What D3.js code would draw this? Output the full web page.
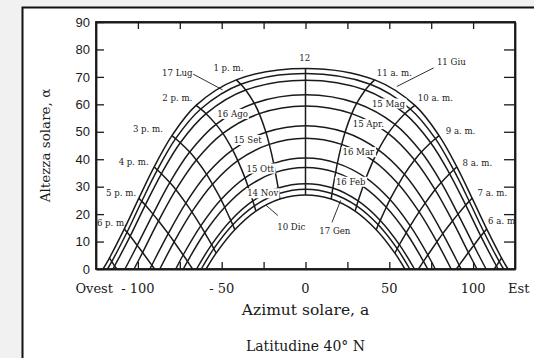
<!DOCTYPE html>
<html>
<head>
<meta charset="utf-8">
<script src="https://cdn.jsdelivr.net/npm/d3@7"></script>
<style>
  body { margin: 0; background: #fff; }
  svg { display: block; }
</style>
</head>
<body>
<div id="chart"></div>
<script>
// sun path, latitude 40 N -- one row per date, one column per hour from noon (0..7 h)
const dates = ["11 Giu", "17 Lug", "15 Mag", "16 Ago", "15 Apr.", "15 Set",
               "16 Mar", "15 Ott", "16 Feb", "14 Nov", "17 Gen", "10 Dic"];

const altitudes = [
  [73.1, 68.9, 59.6, 48.6, 37.2, 25.8, 14.6, 4.0],
  [71.2, 67.3, 58.3, 47.5, 36.1, 24.7, 13.4, 2.7],
  [68.8, 65.2, 56.6, 46.0, 34.7, 23.3, 12.0, 1.1],
  [63.5, 60.4, 52.7, 42.6, 31.5, 20.0, 8.6, null],
  [59.4, 56.6, 49.4, 39.7, 28.9, 17.5, 6.0, null],
  [52.2, 49.8, 43.4, 34.5, 24.0, 12.9, 1.4, null],
  [47.6, 45.4, 39.5, 30.9, 20.8, 9.9, null, null],
  [40.4, 38.5, 33.2, 25.3, 15.7, 5.1, null, null],
  [37.0, 35.2, 30.1, 22.5, 13.2, 2.8, null, null],
  [31.1, 29.5, 24.8, 17.7, 8.9, null, null, null],
  [29.1, 27.5, 23.0, 16.1, 7.4, null, null, null],
  [27.0, 25.5, 21.1, 14.3, 5.8, null, null, null]
];

const azimuths = [
  [0, 41.3, 65.3, 79.7, 90.3, 99.4, 108.1, 117.0],
  [0, 38.6, 62.5, 77.5, 88.4, 97.7, 106.5, 115.6],
  [0, 35.7, 59.3, 74.7, 86.0, 95.6, 104.6, 113.9],
  [0, 30.6, 53.4, 69.1, 81.0, 91.0, 100.4, null],
  [0, 27.6, 49.3, 65.1, 77.3, 87.7, 97.2, null],
  [0, 23.6, 43.5, 59.0, 71.4, 81.9, 91.7, null],
  [0, 21.6, 40.4, 55.5, 67.8, 78.4, null, null],
  [0, 19.0, 36.1, 50.4, 62.5, 73.0, null, null],
  [0, 18.0, 34.3, 48.2, 60.1, 70.4, null, null],
  [0, 16.3, 31.4, 44.6, 56.0, null, null, null],
  [0, 15.8, 30.5, 43.4, 54.7, null, null, null],
  [0, 15.3, 29.6, 42.2, 53.3, null, null, null]
];

// azimuth where each date's path meets the horizon
const sunriseAz = [120.8, 118.2, 114.9, 107.7, 102.3, 92.9, 86.9, 77.4, 72.9, 65.0, 62.2, 59.3];
// azimuth where an hour line meets the horizon (null = it stops on the 10 Dic path)
const hourHorizonAz = [null, null, null, null, null, 67.4, 90.0, 112.6];

const pmLabels = ["12", "1 p. m.", "2 p. m.", "3 p. m.", "4 p. m.", "5 p. m.", "6 p. m."];
const amLabels = ["12", "11 a. m.", "10 a. m.", "9 a. m.", "8 a. m.", "7 a. m.", "6 a. m"];

const yTicks = [0, 10, 20, 30, 40, 50, 60, 70, 80, 90];
const xTicks = [-100, -75, -50, -25, 0, 25, 50, 75, 100];
const xTickLabels = [-100, -50, 0, 50, 100];

// where the annotations sit, in chart units (azimuth, altitude)
const annotations = [
  { text: "12", az: -0.5, alt: 77.0 },
  { text: pmLabels[1], az: -46, alt: 73.3 },
  { text: pmLabels[2], az: -76.5, alt: 62.3 },
  { text: pmLabels[3], az: -94, alt: 51.0 },
  { text: pmLabels[4], az: -102.5, alt: 39.0 },
  { text: pmLabels[5], az: -110, alt: 27.7 },
  { text: pmLabels[6], az: -115.5, alt: 16.8 },
  { text: amLabels[1], az: 53, alt: 71.4 },
  { text: amLabels[2], az: 77.5, alt: 62.3 },
  { text: amLabels[3], az: 92.5, alt: 50.3 },
  { text: amLabels[4], az: 102.5, alt: 38.6 },
  { text: amLabels[5], az: 111.5, alt: 27.7 },
  { text: amLabels[6], az: 117, alt: 17.5 },
  { text: dates[0], az: 87, alt: 75.3, leader: [76.5, 73.3, 54.5, 66.5] },
  { text: dates[1], az: -76.5, alt: 71.4, leader: [-67, 71.0, -49.5, 65.3] },
  { text: dates[2], az: 49.5, alt: 60.3, bg: true },
  { text: dates[3], az: -43.5, alt: 56.5, bg: true },
  { text: dates[4], az: 37.5, alt: 52.8, bg: true },
  { text: dates[5], az: -34.5, alt: 47.0, bg: true },
  { text: dates[6], az: 31.5, alt: 42.6, bg: true },
  { text: dates[7], az: -27, alt: 36.6, bg: true },
  { text: dates[8], az: 27, alt: 31.8, bg: true },
  { text: dates[9], az: -25.5, alt: 27.6, bg: true },
  { text: dates[10], az: 17.5, alt: 14.0, leader: [15.8, 17.0, 21.0, 25.0] },
  { text: dates[11], az: -8.5, alt: 15.3, leader: [-16.5, 19.5, -23.5, 23.2] }
];

const W = 534, H = 358;
const margin = { top: 22, right: 19, bottom: 89, left: 96 };
const serif = "'DejaVu Serif', 'Liberation Serif', serif";
const ink = "#1a1a1a";

const svg = d3.select("#chart").append("svg")
  .attr("width", W).attr("height", H);

// grey scanned margin on the left, white sheet with a thick border
svg.append("rect").attr("x", 0).attr("y", 0).attr("width", W).attr("height", H).attr("fill", "#f1f1f1");
svg.append("rect")
  .attr("x", 22.5).attr("y", 7.5).attr("width", 600).attr("height", 400)
  .attr("fill", "#fff").attr("stroke", "#111").attr("stroke-width", 2);

const x = d3.scaleLinear().domain([-125, 125]).range([margin.left, W - margin.right]);
const y = d3.scaleLinear().domain([0, 90]).range([H - margin.bottom, margin.top]);

const line = d3.line()
  .x(d => x(d[0]))
  .y(d => y(d[1]))
  .curve(d3.curveCatmullRom.alpha(0.5));

// date paths, west (p.m.) on the left
const plot = svg.append("g");
dates.forEach((name, i) => {
  const pts = [[-sunriseAz[i], 0]];
  for (let k = 7; k >= 1; k--) {
    if (altitudes[i][k] != null) pts.push([-azimuths[i][k], altitudes[i][k]]);
  }
  pts.push([0, altitudes[i][0]]);
  for (let k = 1; k <= 7; k++) {
    if (altitudes[i][k] != null) pts.push([azimuths[i][k], altitudes[i][k]]);
  }
  pts.push([sunriseAz[i], 0]);
  plot.append("path")
    .attr("d", line(pts))
    .attr("fill", "none")
    .attr("stroke", ink)
    .attr("stroke-width", 1.5);
});

// hour lines
for (let k = 0; k <= 7; k++) {
  [-1, 1].forEach(side => {
    if (k === 0 && side === 1) return;
    const pts = [];
    dates.forEach((d, i) => {
      if (altitudes[i][k] != null) pts.push([side * azimuths[i][k], altitudes[i][k]]);
    });
    if (hourHorizonAz[k] != null) pts.push([side * hourHorizonAz[k], 0]);
    plot.append("path")
      .attr("d", line(pts))
      .attr("fill", "none")
      .attr("stroke", ink)
      .attr("stroke-width", 1.5);
  });
}

// annotations
const notes = svg.append("g")
  .attr("font-family", serif)
  .attr("font-size", 8.6)
  .attr("fill", ink);

annotations.forEach(a => {
  if (a.leader) {
    notes.append("line")
      .attr("x1", x(a.leader[0])).attr("y1", y(a.leader[1]))
      .attr("x2", x(a.leader[2])).attr("y2", y(a.leader[3]))
      .attr("stroke", ink).attr("stroke-width", 0.9);
  }
  const g = notes.append("g");
  const t = g.append("text")
    .attr("x", x(a.az)).attr("y", y(a.alt))
    .attr("text-anchor", "middle")
    .attr("dy", "0.35em")
    .text(a.text);
  if (a.bg) {
    const b = t.node().getBBox();
    g.insert("rect", "text")
      .attr("x", b.x - 1).attr("y", b.y)
      .attr("width", b.width + 2).attr("height", b.height)
      .attr("fill", "#fff");
  }
});

// axes: ticks point into the plot
const axes = svg.append("g").attr("font-family", serif);

axes.append("g")
  .attr("transform", `translate(${margin.left},0)`)
  .call(d3.axisLeft(y).tickValues(yTicks).tickSizeInner(-8).tickSizeOuter(0).tickPadding(6))
  .call(g => g.selectAll("text").attr("font-size", 13).attr("fill", ink));

axes.append("g")
  .attr("transform", `translate(${W - margin.right},0)`)
  .call(d3.axisRight(y).tickValues(yTicks.slice(1, -1)).tickSizeInner(-11).tickSizeOuter(0).tickFormat(""));

axes.append("g")
  .attr("transform", `translate(0,${margin.top})`)
  .call(d3.axisTop(x).tickValues(xTicks).tickSizeInner(-7).tickSizeOuter(0).tickFormat(""));

axes.append("g")
  .attr("transform", `translate(0,${H - margin.bottom})`)
  .call(d3.axisBottom(x).tickValues(xTicks).tickSizeInner(-7).tickSizeOuter(0).tickFormat(""));

axes.selectAll(".domain").attr("stroke", ink).attr("stroke-width", 1.8);
axes.selectAll(".tick line").attr("stroke", ink).attr("stroke-width", 1.3);

// plot box
svg.append("rect")
  .attr("x", margin.left).attr("y", margin.top)
  .attr("width", W - margin.right - margin.left)
  .attr("height", H - margin.bottom - margin.top)
  .attr("fill", "none").attr("stroke", ink).attr("stroke-width", 1.8);

const xLab = axes.append("g")
  .attr("font-size", 13)
  .attr("fill", ink);

xLab.selectAll("text.xl")
  .data(xTickLabels)
  .join("text")
  .attr("class", "xl")
  .attr("x", d => x(d))
  .attr("y", H - margin.bottom + 24)
  .attr("text-anchor", "middle")
  .text(d => d < 0 ? "- " + Math.abs(d) : d);

xLab.append("text")
  .attr("x", 113).attr("y", H - margin.bottom + 24)
  .attr("text-anchor", "end")
  .text("Ovest");

xLab.append("text")
  .attr("x", 508).attr("y", H - margin.bottom + 24)
  .text("Est");

svg.append("text")
  .attr("x", x(0)).attr("y", 315)
  .attr("text-anchor", "middle")
  .attr("font-family", serif).attr("font-size", 15.5).attr("fill", ink)
  .text("Azimut solare, a");

svg.append("text")
  .attr("x", x(0)).attr("y", 351)
  .attr("text-anchor", "middle")
  .attr("font-family", serif).attr("font-size", 14).attr("fill", ink)
  .text("Latitudine 40° N");

svg.append("text")
  .attr("transform", `translate(50,${(margin.top + H - margin.bottom) / 2}) rotate(-90)`)
  .attr("text-anchor", "middle")
  .attr("font-family", serif).attr("font-size", 13.5).attr("fill", ink)
  .text("Altezza solare, α");
</script>
</body>
</html>
